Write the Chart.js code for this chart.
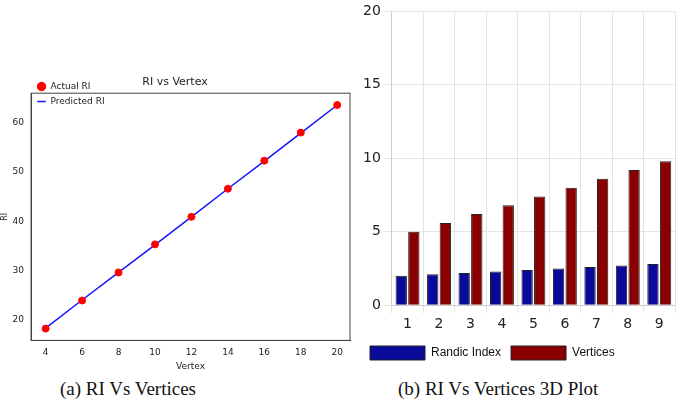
<!DOCTYPE html>
<html><head><meta charset="utf-8">
<script src="https://cdn.jsdelivr.net/npm/chart.js"></script>
<style>
body{margin:0;width:685px;height:410px;background:#fff;position:relative;overflow:hidden}
#c1w{position:absolute;left:0;top:76px;width:355px;height:296px}
#c2w{position:absolute;left:360px;top:0;width:325px;height:370px}
.cap{position:absolute;top:378px;font-family:"Liberation Serif","DejaVu Serif",serif;font-size:19px;color:#111}
</style></head><body>
<div id="c1w"><canvas id="c1"></canvas></div>
<div id="c2w"><canvas id="c2"></canvas></div>
<div class="cap" style="left:60px">(a) RI Vs Vertices</div>
<div class="cap" style="left:398px">(b) RI Vs Vertices 3D Plot</div>
<script>
const vertex=[4,6,8,10,12,14,16,18,20];
const actualRI=[18.2,23.9,29.6,35.3,40.9,46.6,52.3,58.0,63.6];
const predictedRI=[18.3,24.0,29.6,35.2,40.9,46.6,52.2,57.9,63.6];
const idx=['1','2','3','4','5','6','7','8','9'];
const randic=[2.0,2.1,2.2,2.3,2.4,2.5,2.6,2.7,2.8];
const vertices=[5.0,5.6,6.2,6.8,7.4,8.0,8.6,9.2,9.8];
const f='"DejaVu Sans",sans-serif';
const frame={id:'frame',afterDraw(c){const a=c.chartArea,x=c.ctx;x.save();x.strokeStyle='#444';x.lineWidth=1;x.strokeRect(a.left,a.top,a.right-a.left,a.bottom-a.top);x.restore();}};
new Chart(document.getElementById('c1'),{
 data:{datasets:[
  {type:'scatter',label:'Actual RI',data:vertex.map((x,i)=>({x,y:actualRI[i]})),backgroundColor:'#ff0000',borderColor:'#ff0000',pointRadius:3.5,pointStyle:'circle'},
  {type:'line',label:'Predicted RI',data:vertex.map((x,i)=>({x,y:predictedRI[i]})),borderColor:'#1515ff',backgroundColor:'#1515ff',borderWidth:1.5,pointRadius:0,pointStyle:'line'}
 ]},
 plugins:[frame],
 options:{responsive:true,maintainAspectRatio:false,animation:false,
  layout:{padding:{right:5}},
  plugins:{title:{display:true,text:'RI vs Vertex',font:{family:f,size:11,weight:'normal'},color:'#222',padding:{top:0,bottom:4}},
   legend:{position:'chartArea',align:'start',labels:{usePointStyle:true,font:{family:f,size:9},color:'#222',boxWidth:14,boxHeight:6,padding:6}}},
  scales:{x:{type:'linear',min:3.2,max:20.7,afterBuildTicks:a=>{a.ticks=vertex.map(v=>({value:v}))},grid:{display:false,drawTicks:true,tickLength:4},border:{color:'#444'},ticks:{font:{family:f,size:9},color:'#222'},title:{display:true,text:'Vertex',font:{family:f,size:9},color:'#222',padding:0}},
   y:{min:15.8,max:66,afterBuildTicks:a=>{a.ticks=[20,30,40,50,60].map(v=>({value:v}))},grid:{display:false,tickLength:4},border:{color:'#444'},ticks:{font:{family:f,size:9},color:'#222'},title:{display:true,text:'RI',font:{family:f,size:8},color:'#222',padding:0}}}}
});
new Chart(document.getElementById('c2'),{
 type:'bar',
 data:{labels:idx,datasets:[
  {label:'Randic Index',data:randic,backgroundColor:'#0a0a9a',borderColor:'#222',borderWidth:1},
  {label:'Vertices',data:vertices,backgroundColor:'#8a0000',borderColor:'#222',borderWidth:1}
 ]},
 options:{responsive:true,maintainAspectRatio:false,animation:false,
  layout:{padding:{top:8,right:10}},
  plugins:{legend:{position:'bottom',align:'start',labels:{font:{family:'"Liberation Sans",sans-serif',size:12},color:'#111',boxWidth:55,boxHeight:14}}},
  scales:{x:{grid:{color:'#e4e4e4'},ticks:{font:{family:f,size:14},color:'#222'}},
   y:{min:0,max:20,ticks:{stepSize:5,font:{family:f,size:14},color:'#222'},grid:{color:'#e4e4e4'}}}}
});
</script></body></html>
